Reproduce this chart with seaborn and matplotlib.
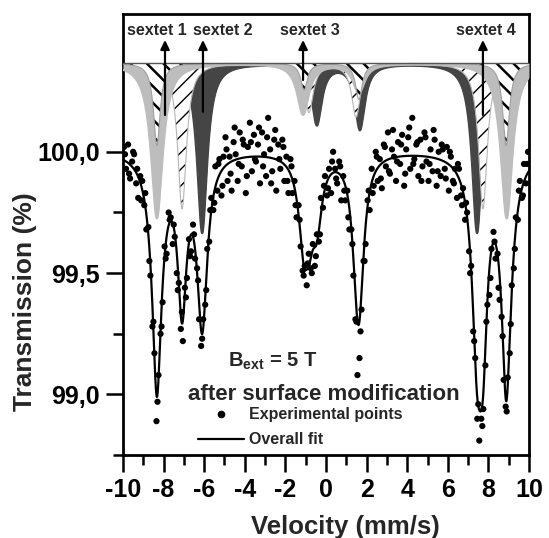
import numpy as np
import seaborn as sns
import matplotlib.pyplot as plt
from matplotlib.lines import Line2D
from matplotlib.ticker import FixedLocator, FuncFormatter

# measured spectrum (velocity in mm/s, transmission in %)
velocity = [
    -9.95, -9.85, -9.75, -9.65, -9.55, -9.45, -9.35, -9.25, -9.15, -9.05,
    -8.95, -8.85, -8.75, -8.65, -8.55, -8.45, -8.35, -8.25, -8.15, -8.05,
    -7.95, -7.85, -7.75, -7.65, -7.55, -7.45, -7.35, -7.25, -7.15, -7.05,
    -6.95, -6.85, -6.75, -6.65, -6.55, -6.45, -6.35, -6.25, -6.15, -6.05,
    -5.95, -5.85, -5.75, -5.65, -5.55, -5.45, -5.35, -5.25, -5.15, -5.05,
    -4.95, -4.85, -4.75, -4.65, -4.55, -4.45, -4.35, -4.25, -4.15, -4.05,
    -3.95, -3.85, -3.75, -3.65, -3.55, -3.45, -3.35, -3.25, -3.15, -3.05,
    -2.95, -2.85, -2.75, -2.65, -2.55, -2.45, -2.35, -2.25, -2.15, -2.05,
    -1.95, -1.85, -1.75, -1.65, -1.55, -1.45, -1.35, -1.25, -1.15, -1.05,
    -0.95, -0.85, -0.75, -0.65, -0.55, -0.45, -0.35, -0.25, -0.15, -0.05,
    0.05, 0.15, 0.25, 0.35, 0.45, 0.55, 0.65, 0.75, 0.85, 0.95,
    1.05, 1.15, 1.25, 1.35, 1.45, 1.55, 1.65, 1.75, 1.85, 1.95,
    2.05, 2.15, 2.25, 2.35, 2.45, 2.55, 2.65, 2.75, 2.85, 2.95,
    3.05, 3.15, 3.25, 3.35, 3.45, 3.55, 3.65, 3.75, 3.85, 3.95,
    4.05, 4.15, 4.25, 4.35, 4.45, 4.55, 4.65, 4.75, 4.85, 4.95,
    5.05, 5.15, 5.25, 5.35, 5.45, 5.55, 5.65, 5.75, 5.85, 5.95,
    6.05, 6.15, 6.25, 6.35, 6.45, 6.55, 6.65, 6.75, 6.85, 6.95,
    7.05, 7.15, 7.25, 7.35, 7.45, 7.55, 7.65, 7.75, 7.85, 7.95,
    8.05, 8.15, 8.25, 8.35, 8.45, 8.55, 8.65, 8.75, 8.85, 8.95,
    9.05, 9.15, 9.25, 9.35, 9.45, 9.55, 9.65, 9.75, 9.85, 9.95,
    # second pass of channels
    -9.9, -9.7, -9.5, -9.3, -9.1, -8.9, -8.7, -8.5, -8.3, -8.1,
    -7.9, -7.7, -7.5, -7.3, -7.1, -6.9, -6.7, -6.5, -6.3, -6.1,
    -5.9, -5.7, -5.5, -5.3, -5.1, -4.9, -4.7, -4.5, -4.3, -4.1,
    -3.9, -3.7, -3.5, -3.3, -3.1, -2.9, -2.7, -2.5, -2.3, -2.1,
    -1.9, -1.7, -1.5, -1.3, -1.1, -0.9, -0.7, -0.5, -0.3, -0.1,
    0.1, 0.3, 0.5, 0.7, 0.9, 1.1, 1.3, 1.5, 1.7, 1.9,
    2.1, 2.3, 2.5, 2.7, 2.9, 3.1, 3.3, 3.5, 3.7, 3.9,
    4.1, 4.3, 4.5, 4.7, 4.9, 5.1, 5.3, 5.5, 5.7, 5.9,
    6.1, 6.3, 6.5, 6.7, 6.9, 7.1, 7.3, 7.5, 7.7, 7.9,
    8.1, 8.3, 8.5, 8.7, 8.9, 9.1, 9.3, 9.5, 9.7, 9.9,
]
transmission = [
    100.02, 99.93, 100.03, 99.89, 99.96, 99.99, 99.87, 99.81, 99.90, 99.88,
    99.78, 99.68, 99.69, 99.49, 99.28, 99.17, 98.89, 99.08, 99.25, 99.38,
    99.61, 99.58, 99.75, 99.73, 99.62, 99.65, 99.50, 99.46, 99.27, 99.22,
    99.44, 99.48, 99.64, 99.59, 99.70, 99.56, 99.52, 99.31, 99.20, 99.31,
    99.37, 99.60, 99.63, 99.81, 99.76, 99.94, 99.84, 99.97, 99.82, 99.98,
    100.06, 99.88, 99.98, 99.84, 100.04, 99.99, 99.88, 100.08, 99.94, 100.03,
    99.83, 100.02, 100.12, 99.92, 100.07, 99.96, 100.03, 99.87, 100.08, 99.99,
    99.90, 100.14, 100.01, 99.92, 100.05, 99.84, 100.03, 99.93, 100.05, 99.88,
    99.98, 99.83, 99.97, 99.83, 99.88, 99.73, 99.78, 99.61, 99.51, 99.53,
    99.45, 99.58, 99.52, 99.62, 99.53, 99.66, 99.63, 99.81, 99.77, 99.90,
    99.82, 99.93, 99.83, 100.00, 99.93, 99.87, 99.96, 99.80, 99.90, 99.80,
    99.84, 99.68, 99.68, 99.49, 99.31, 99.08, 99.15, 99.35, 99.55, 99.62,
    99.80, 99.76, 99.93, 99.86, 100.00, 99.88, 99.97, 99.85, 100.03, 99.94,
    100.08, 99.91, 100.01, 99.98, 99.88, 100.04, 99.95, 100.07, 99.86, 100.01,
    100.06, 99.93, 100.14, 99.97, 100.03, 99.90, 100.05, 99.94, 100.08, 99.96,
    99.88, 100.01, 99.92, 100.05, 99.86, 100.00, 99.90, 100.01, 99.93, 100.02,
    99.84, 99.98, 99.88, 99.93, 99.81, 99.93, 99.82, 99.85, 99.72, 99.75,
    99.59, 99.53, 99.26, 99.15, 98.90, 98.81, 98.90, 98.94, 99.12, 99.37,
    99.41, 99.60, 99.67, 99.56, 99.58, 99.39, 99.32, 99.06, 98.95, 99.07,
    99.17, 99.45, 99.52, 99.73, 99.72, 99.88, 99.81, 99.95, 99.87, 100.00,
    # second pass of channels
    99.99, 99.91, 100.00, 99.93, 99.80, 99.83, 99.55, 99.30, 98.97, 99.28,
    99.56, 99.72, 99.70, 99.43, 99.34, 99.40, 99.57, 99.66, 99.47, 99.23,
    99.43, 99.76, 99.79, 99.95, 99.86, 100.01, 99.91, 100.10, 99.95, 100.05,
    99.90, 100.04, 99.97, 100.10, 99.94, 100.06, 99.87, 100.09, 99.97, 100.02,
    99.88, 99.94, 99.78, 99.72, 99.49, 99.54, 99.50, 99.57, 99.66, 99.86,
    99.85, 99.96, 99.89, 99.94, 99.84, 99.73, 99.62, 99.30, 99.26, 99.55,
    99.84, 99.83, 99.98, 99.89, 100.02, 99.92, 100.09, 99.96, 100.03, 99.91,
    100.10, 99.95, 100.04, 99.88, 100.06, 99.95, 100.09, 99.92, 100.03, 99.89,
    100.00, 99.87, 99.95, 99.78, 99.79, 99.50, 99.22, 98.96, 98.87, 99.30,
    99.48, 99.63, 99.44, 99.24, 98.93, 99.29, 99.60, 99.84, 99.82, 99.95,
]

# sub-spectra: line positions (mm/s), depths (%) and half widths (mm/s);
# lines 2 and 5 are absent in the applied field
sextet_labels = ["sextet 1", "sextet 2", "sextet 3", "sextet 4"]
s1_pos = [-8.33, -1.08, 1.62, 8.87]
s1_depth = [0.34, 0.11, 0.15, 0.34]
s2_pos = [-6.10, -0.45, 1.67, 7.44]
s2_depth = [0.70, 0.25, 0.27, 0.70]
s3_pos = [-8.33, -1.13, 1.62, 8.90]
s3_depth = [0.64, 0.21, 0.12, 0.64]
s4_pos = [-7.09, -0.84, 1.48, 7.73]
s4_depth = [0.60, 0.20, 0.22, 0.60]
hwhm = [0.20, 0.30, 0.35, 0.26]
fit_base = 100.01
comp_base = 100.366

# label / arrow anchors for the sextets
label_x = [-8.33, -5.07, -0.79, 7.88]
arrow_x = [-7.93, -6.06, -1.13, 7.73]
arrow_y0 = [100.152, 100.165, 100.296, 100.152]

sns.set_theme(style="ticks")
plt.rcParams["font.family"] = ["Liberation Sans", "DejaVu Sans"]
plt.rcParams["font.weight"] = "bold"
plt.rcParams["axes.unicode_minus"] = False
plt.rcParams["mathtext.fontset"] = "custom"
plt.rcParams["mathtext.rm"] = "Liberation Sans:bold"
plt.rcParams["mathtext.bf"] = "Liberation Sans:bold"
plt.rcParams["mathtext.it"] = "Liberation Sans:bold"


def sextet(v, pos, depth, g):
    out = np.zeros_like(v)
    for p, d in zip(pos, depth):
        out += d * g**2 / (g**2 + (v - p) ** 2)
    return out


vv = np.linspace(-10, 10, 2001)
a1 = sextet(vv, s1_pos, s1_depth, hwhm[0])
a2 = sextet(vv, s2_pos, s2_depth, hwhm[1])
a3 = sextet(vv, s3_pos, s3_depth, hwhm[2])
a4 = sextet(vv, s4_pos, s4_depth, hwhm[3])
fit = fit_base - (a1 + a2 + a3 + a4)

fig, ax = plt.subplots(figsize=(5.49, 5.38), dpi=100)
fig.subplots_adjust(left=0.224, right=0.9636, bottom=0.154, top=0.974)

# sub-spectra drawn above the data: dark grey, // hatch, light grey, \\ hatch
ax.fill_between(vv, comp_base - a2, comp_base, color="#454545", lw=0, zorder=1)
ax.plot(vv, comp_base - a2, color="#454545", lw=1.5, zorder=1)
with plt.rc_context({"hatch.linewidth": 1.0}):
    ax.fill_between(vv, comp_base - a4, comp_base, where=a4 > 0.006,
                    facecolor="white", edgecolor="black", hatch="//",
                    lw=0, zorder=2)
ax.plot(vv, comp_base - a4, color="#b5b5b5", lw=0.8, zorder=2)
ax.fill_between(vv, comp_base - a3, comp_base, color="#bdbdbd", lw=0, zorder=3)
ax.plot(vv, comp_base - a3, color="#bdbdbd", lw=1.5, zorder=3)
with plt.rc_context({"hatch.linewidth": 1.8}):
    ax.fill_between(vv, comp_base - a1, comp_base, where=a1 > 0.006,
                    facecolor="white", edgecolor="black", hatch="\\\\",
                    lw=0, zorder=4)
ax.plot(vv, comp_base - a1, color="#a0a0a0", lw=0.8, zorder=4)
ax.axhline(comp_base, color="#555555", lw=1.0, zorder=4.5)

sns.lineplot(x=vv, y=fit, color="black", lw=1.6, ax=ax, zorder=5)
sns.scatterplot(x=velocity, y=transmission, color="black", s=20,
                edgecolor="none", ax=ax, zorder=6, legend=False)

for lab, lx, ax_, ay in zip(sextet_labels, label_x, arrow_x, arrow_y0):
    ax.text(lx, 100.502, lab, ha="center", va="center", fontsize=11.5,
            fontweight="bold", zorder=8)
    ax.annotate("", xy=(ax_, 100.461), xytext=(ax_, ay),
                arrowprops=dict(arrowstyle="-|>,head_length=0.45,head_width=0.22",
                                lw=1.6, color="black", shrinkA=0, shrinkB=0),
                zorder=8)

ax.text(-2.61, 99.115, r"$\mathbf{B}_{\mathbf{ext}}$ = 5 T", ha="center",
        va="baseline", fontsize=14.5, fontweight="bold")
ax.text(-0.10, 98.979, "after surface modification", ha="center",
        va="baseline", fontsize=16, fontweight="bold")

handles = [Line2D([], [], ls="", marker="o", ms=4.5, color="black"),
           Line2D([], [], color="black", lw=1.6)]
ax.legend(handles, ["Experimental points", "Overall fit"], loc="center left",
          bbox_to_anchor=(0.185, 0.063), frameon=False, fontsize=11.5,
          handlelength=2.9, handletextpad=0.3, labelspacing=0.62,
          borderpad=0, borderaxespad=0)

ax.set_xlim(-10, 10)
ax.set_ylim(98.75, 100.568)
ax.xaxis.set_major_locator(FixedLocator(list(range(-10, 11, 2))))
ax.xaxis.set_minor_locator(FixedLocator(list(range(-9, 10, 2))))
ax.yaxis.set_major_locator(FixedLocator([99.0, 99.5, 100.0]))
ax.yaxis.set_minor_locator(FixedLocator([98.75, 99.25, 99.75]))
ax.yaxis.set_major_formatter(FuncFormatter(lambda v, p: f"{v:.1f}".replace(".", ",")))
ax.tick_params(which="major", length=12.5, width=1.8, direction="out",
               labelsize=18, pad=4, color="black", labelcolor="black")
ax.tick_params(which="minor", length=7, width=1.8, direction="out", color="black")
for sp in ax.spines.values():
    sp.set_linewidth(2)
    sp.set_color("black")

ax.set_xlabel("Velocity (mm/s)", fontsize=18.5, fontweight="bold")
ax.set_ylabel("Transmission (%)", fontsize=19, fontweight="bold")
ax.xaxis.label.set_va("center")
ax.yaxis.label.set_va("center")
ax.xaxis.set_label_coords(0.547, -0.163)
ax.yaxis.set_label_coords(-0.241, 0.349)

fig.savefig("out.png", dpi=100)
